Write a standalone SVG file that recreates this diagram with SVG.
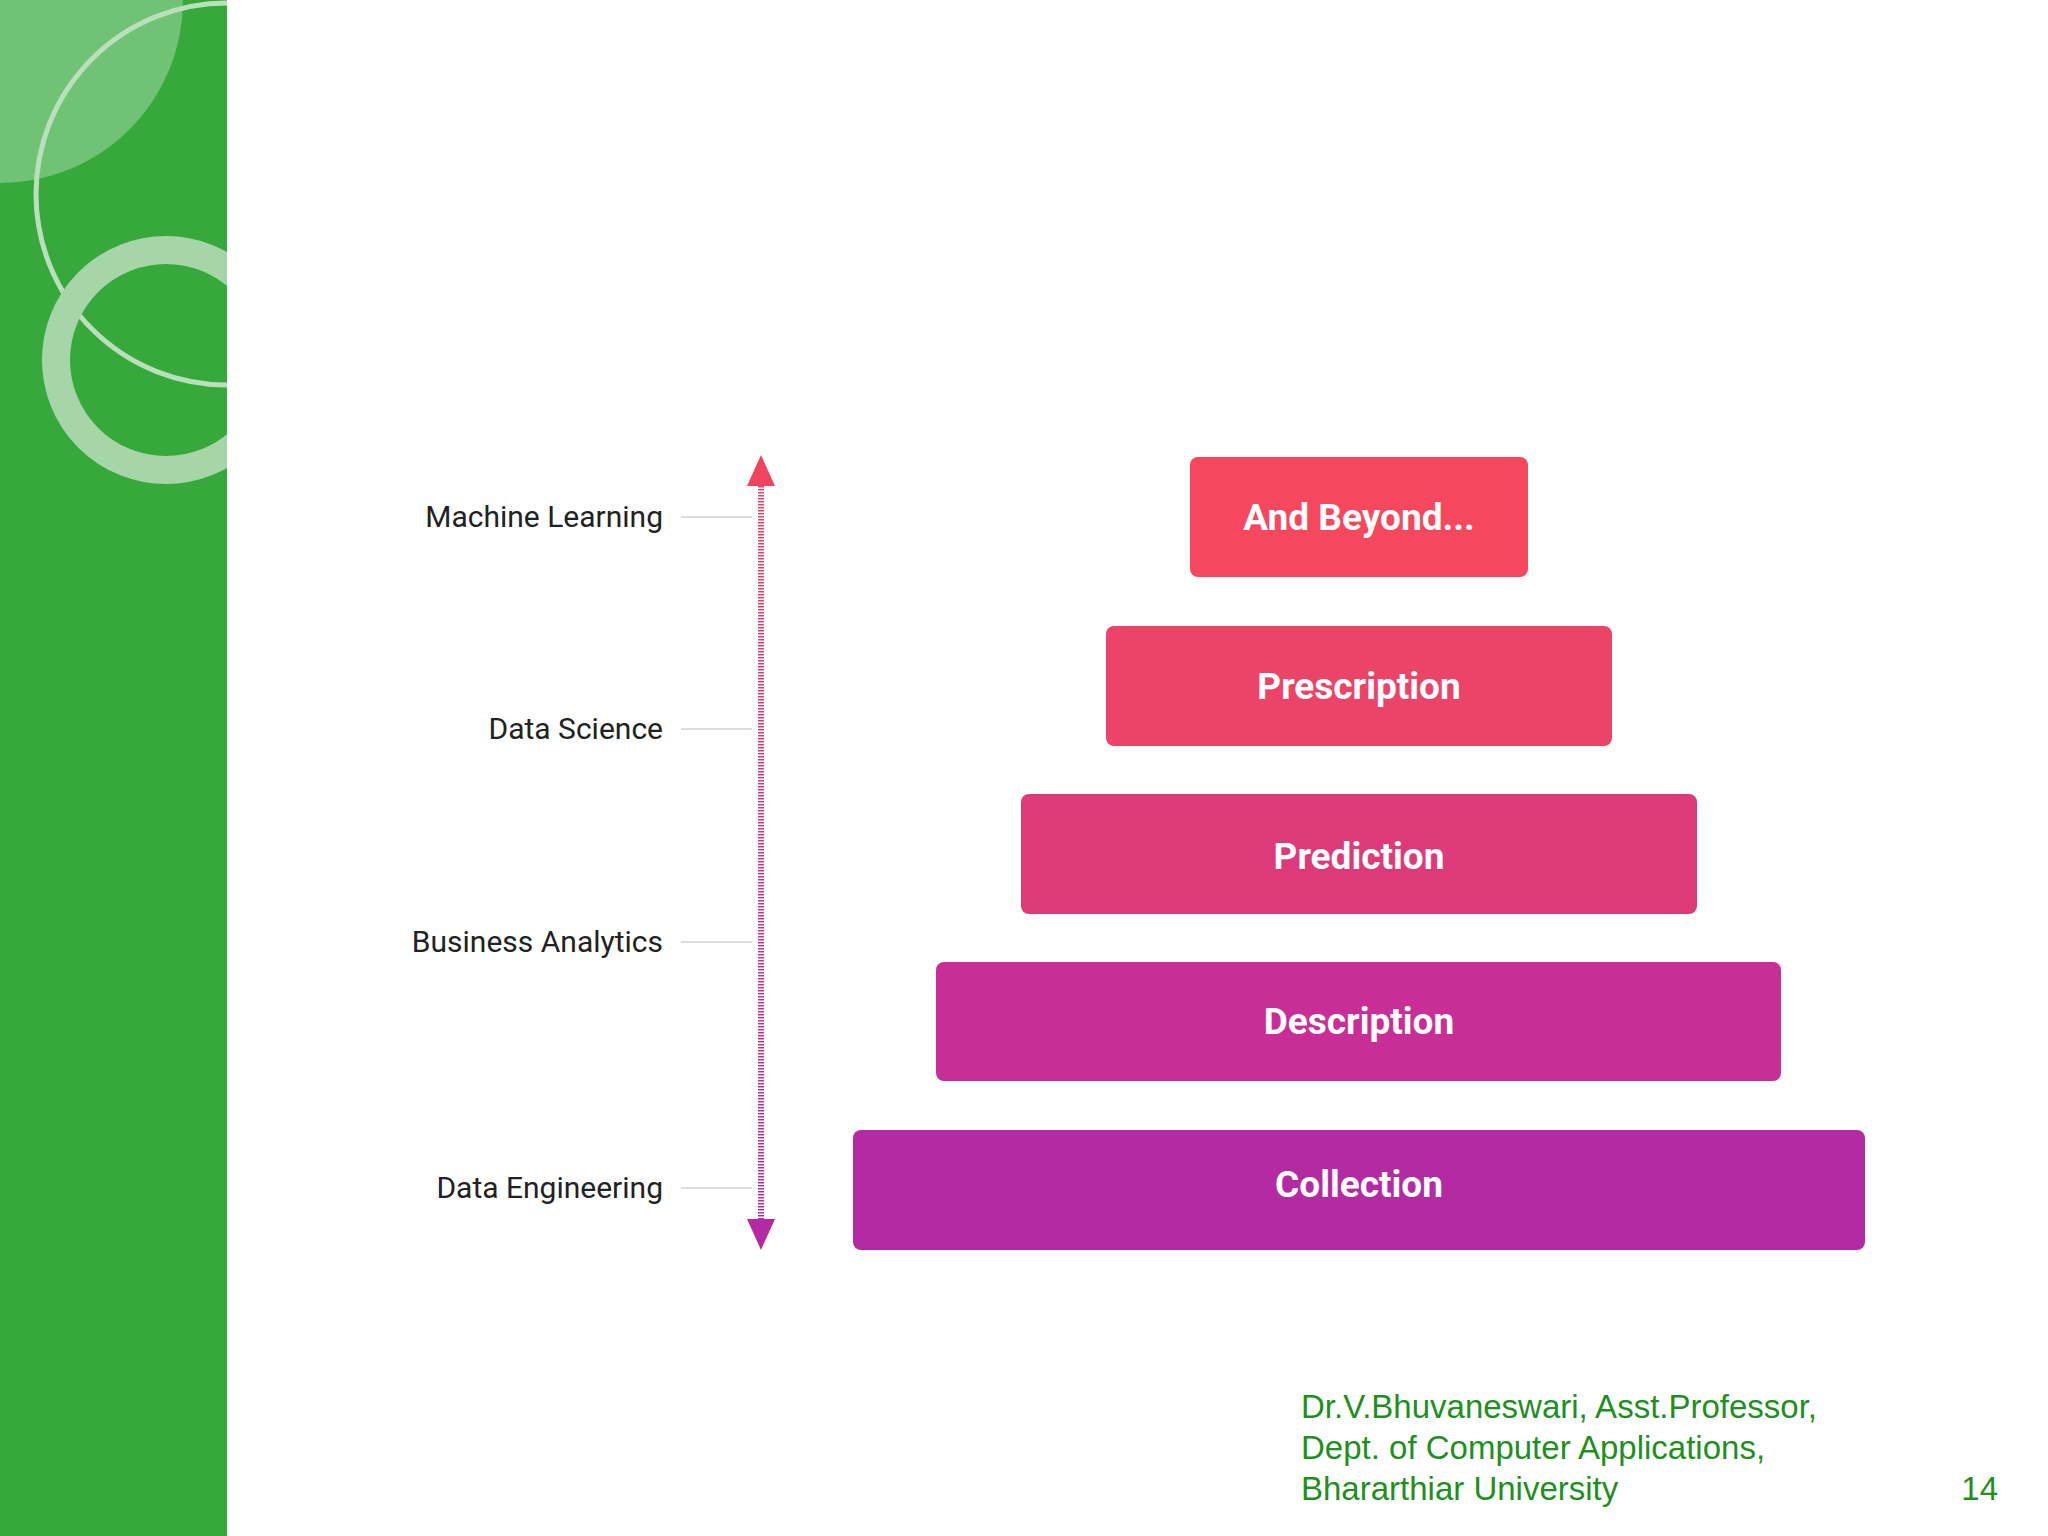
<svg xmlns="http://www.w3.org/2000/svg" width="2048" height="1536" viewBox="0 0 2048 1536">
<defs>
<style>
.box text{font-family:Roboto,"Liberation Sans",sans-serif;font-weight:bold;font-size:37px;fill:#fff;text-anchor:middle}
.lbl{font-family:Roboto,"Liberation Sans",sans-serif;font-size:30px;fill:#222;text-anchor:end}
.tick{stroke:#ddd;stroke-width:2}
.foot{font-family:"Liberation Sans",sans-serif;font-size:33px;fill:#1f8f1f}
</style>
<linearGradient id="ag" gradientUnits="userSpaceOnUse" x1="0" y1="455" x2="0" y2="1250"><stop offset="0" stop-color="#f04460"/><stop offset="1" stop-color="#b42aa3"/></linearGradient>
<clipPath id="side"><rect x="0" y="0" width="227" height="1536"/></clipPath>
</defs>
<rect width="2048" height="1536" fill="#fff"/>
<g id="sidebar" clip-path="url(#side)">
<rect width="227" height="1536" fill="#36a83c"/>
<path d="M0 0H183A183 183 0 0 1 0 183Z" fill="#7fc882" opacity="0.8"/>
<circle cx="227" cy="194" r="191" fill="none" stroke="#b9e0ba" stroke-width="5"/>
<circle cx="166" cy="360" r="110" fill="none" stroke="#a6d6a8" stroke-width="28"/>
</g>
<g id="connectors">
<line x1="761" y1="480" x2="761" y2="1225" stroke="url(#ag)" stroke-width="6" stroke-dasharray="1.5 1.5"/>
<path d="M761 455L775 486H747Z" fill="#f04460"/>
<path d="M761 1250L775 1219H747Z" fill="#b42aa3"/>
<line class="tick" x1="681" y1="517" x2="752" y2="517"/>
<line class="tick" x1="681" y1="729" x2="752" y2="729"/>
<line class="tick" x1="681" y1="942" x2="752" y2="942"/>
<line class="tick" x1="681" y1="1188" x2="752" y2="1188"/>
</g>
<g id="labels">
<text class="lbl" x="663" y="527">Machine Learning</text>
<text class="lbl" x="663" y="739">Data Science</text>
<text class="lbl" x="663" y="952">Business Analytics</text>
<text class="lbl" x="663" y="1198">Data Engineering</text>
</g>
<g id="n1" class="box"><rect x="1190" y="457" width="338" height="120" rx="8" fill="#f5475d"/><text x="1359" y="530">And Beyond...</text></g>
<g id="n2" class="box"><rect x="1106" y="626" width="506" height="120" rx="8" fill="#ec4468"/><text x="1359" y="699">Prescription</text></g>
<g id="n3" class="box"><rect x="1021" y="794" width="676" height="120" rx="8" fill="#dd3a7a"/><text x="1359" y="869">Prediction</text></g>
<g id="n4" class="box"><rect x="936" y="962" width="845" height="119" rx="8" fill="#c92e96"/><text x="1359" y="1034">Description</text></g>
<g id="n5" class="box"><rect x="853" y="1130" width="1012" height="120" rx="8" fill="#b42aa3"/><text x="1359" y="1197">Collection</text></g>
<g id="footer">
<text class="foot" x="1301" y="1418">Dr.V.Bhuvaneswari, Asst.Professor,</text>
<text class="foot" x="1301" y="1459">Dept. of Computer Applications,</text>
<text class="foot" x="1301" y="1500">Bhararthiar University</text>
<text class="foot" x="1998" y="1500" text-anchor="end">14</text>
</g>
</svg>
